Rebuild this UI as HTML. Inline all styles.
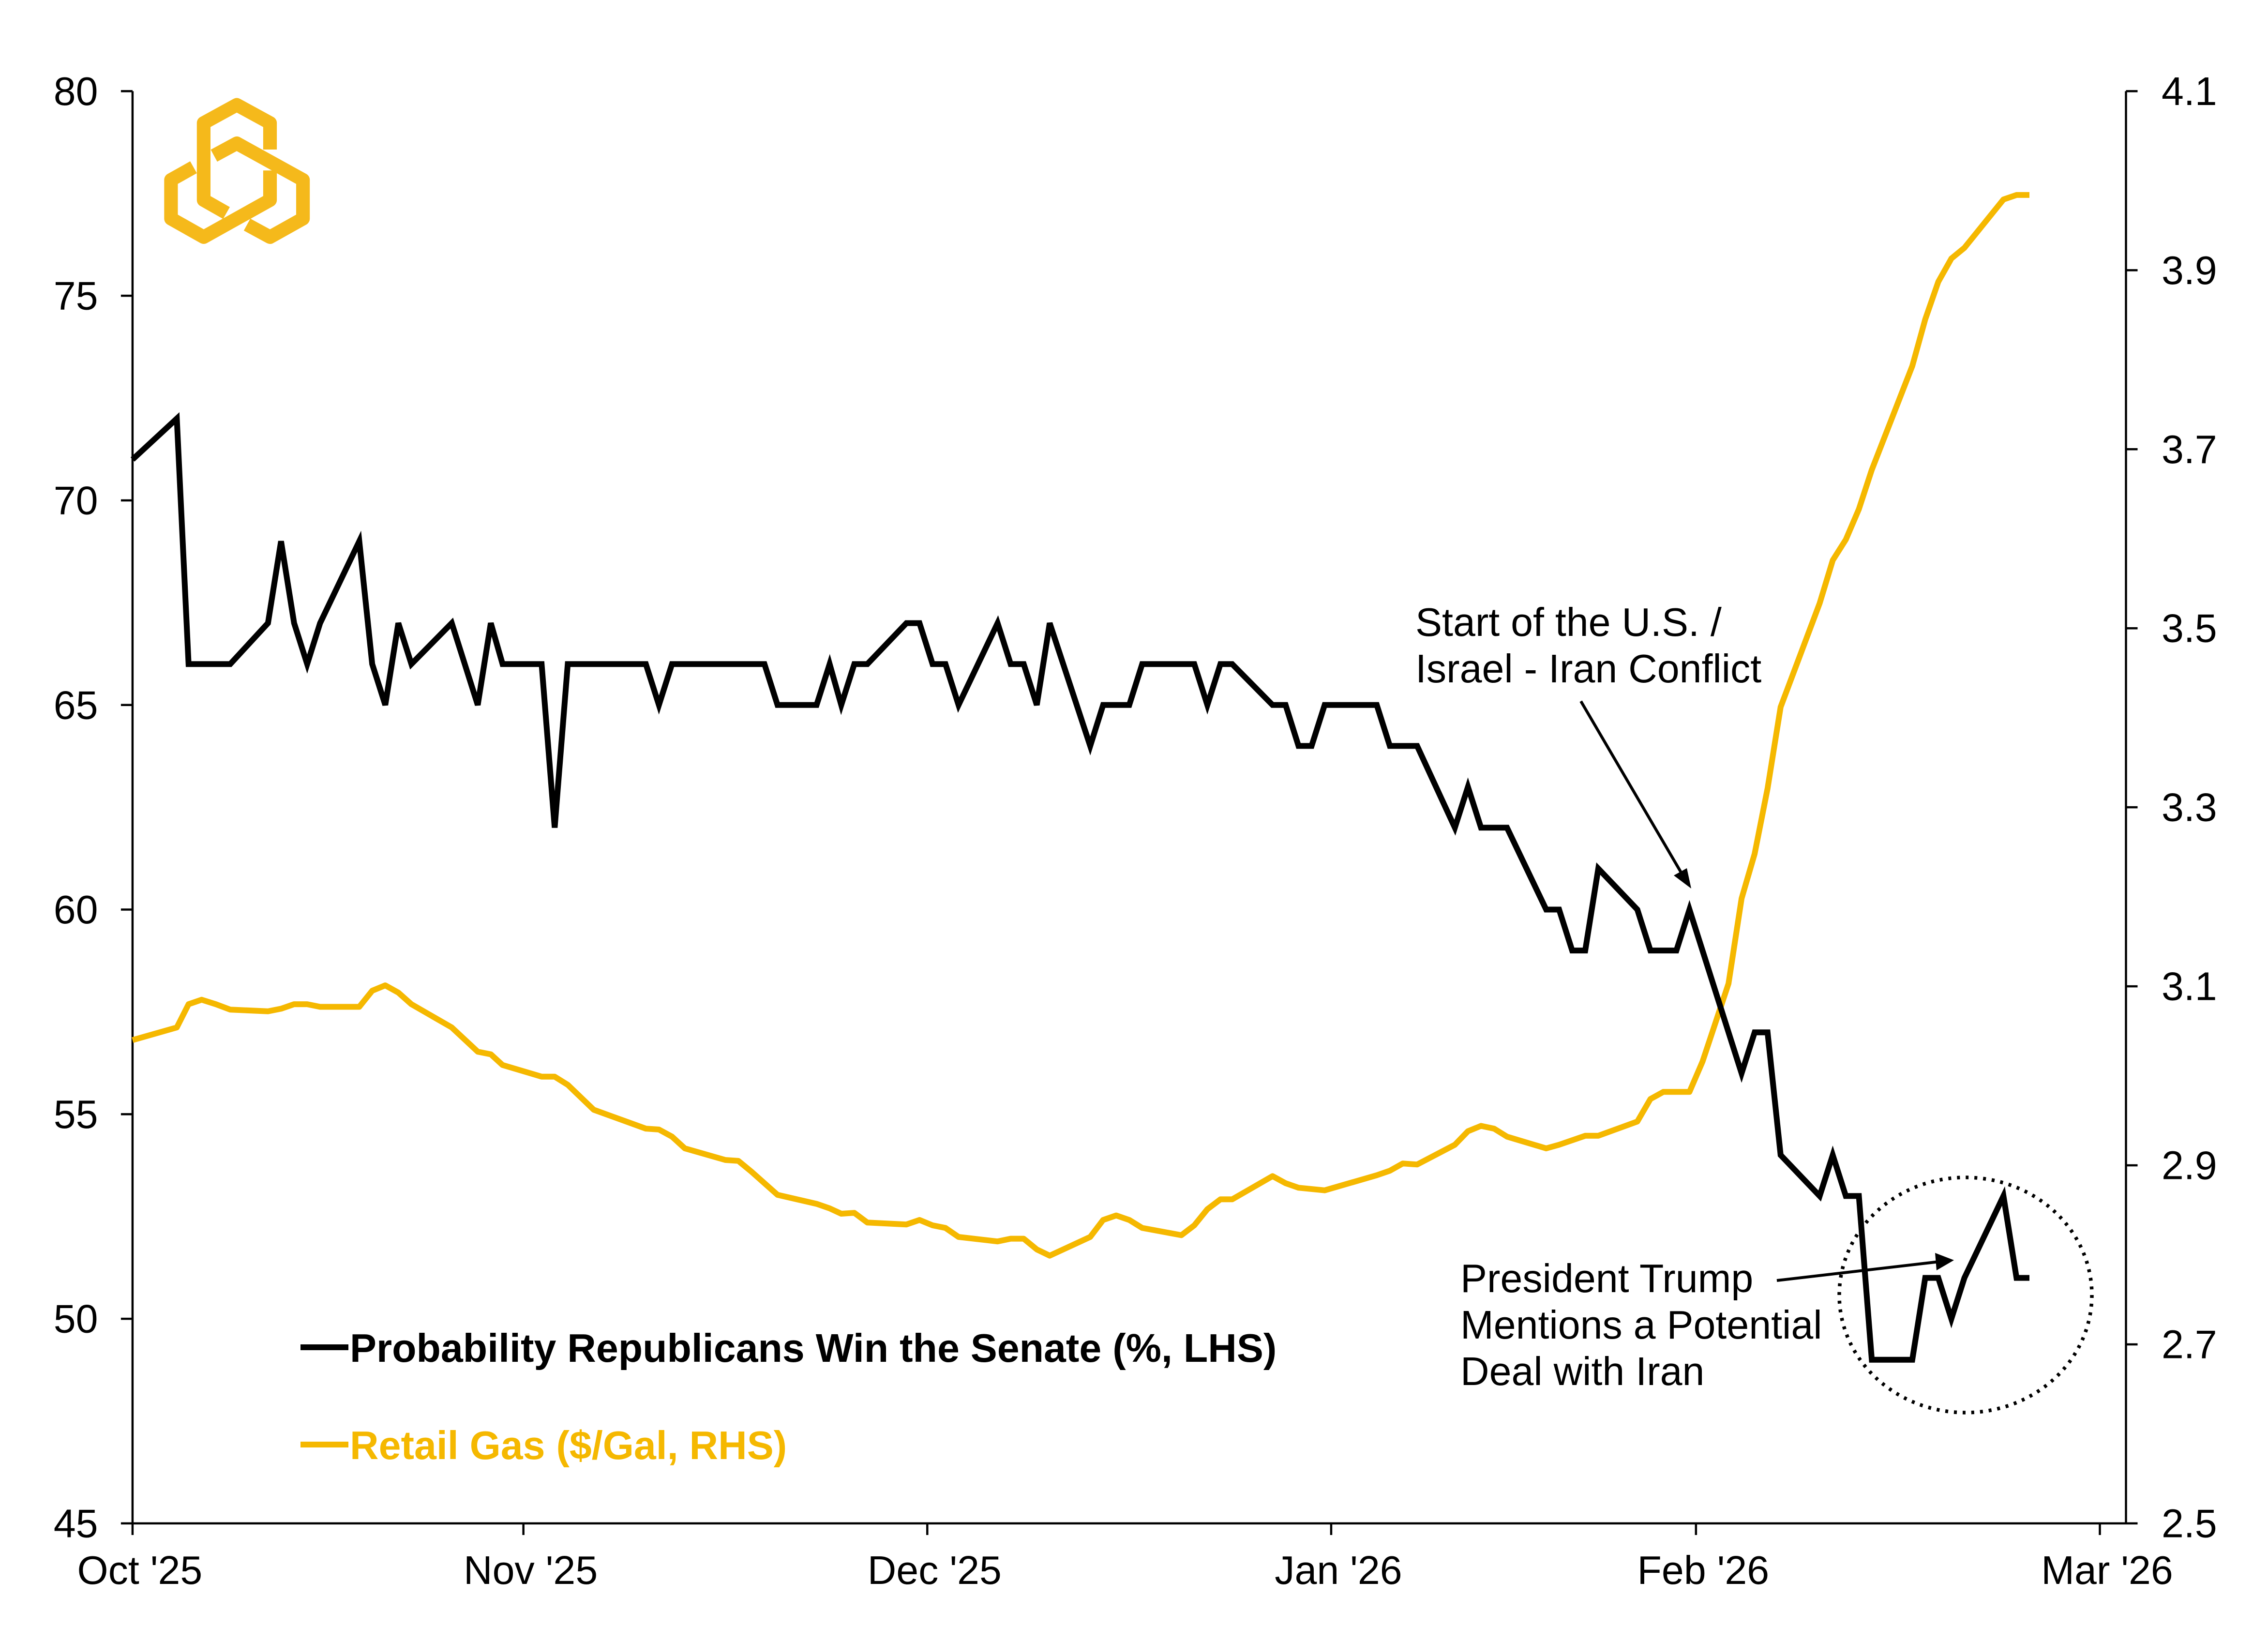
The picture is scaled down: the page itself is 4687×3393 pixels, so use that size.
<!DOCTYPE html>
<html>
<head>
<meta charset="utf-8">
<style>
html,body{margin:0;padding:0;background:#fff;}
svg{display:block;}
text{font-family:"Liberation Sans",Arial,sans-serif;}
</style>
</head>
<body>
<svg id="chart" width="4687" height="3393" viewBox="0 0 1562.33 1131" xmlns="http://www.w3.org/2000/svg">
  <rect width="1563" height="1131" fill="#fff"/>
  <g id="logo" fill="none" stroke="#F5B91B" stroke-width="9.4" stroke-linejoin="round">
    <polyline points="186,103 186,84.7 163.1,72.2 140.3,84.7 140.3,137.8 156,146.7"/>
    <polyline points="147.4,107.2 163.1,98.7 208.7,123.9 208.7,150.6 186,163.3 170.2,154.7"/>
    <polyline points="133.3,115.2 117.8,123.9 117.8,150.6 140.3,163.3 186,137.8 186,117.4"/>
  </g>
  <g id="axes"></g>
  <g id="series"></g>
  <g id="annotations">
    <text x="975" y="438" font-size="27.5" fill="#000">Start of the U.S. /</text>
    <text x="975" y="470" font-size="27.5" fill="#000">Israel - Iran Conflict</text>
    <line x1="1089" y1="483" x2="1161" y2="606" stroke="#000" stroke-width="2"/>
    <polygon points="1165,612 1153,603 1162,598" fill="#000"/>
    <text x="1006" y="890" font-size="27.5" fill="#000">President Trump</text>
    <text x="1006" y="922" font-size="27.5" fill="#000">Mentions a Potential</text>
    <text x="1006" y="954" font-size="27.5" fill="#000">Deal with Iran</text>
    <line x1="1224" y1="882" x2="1336" y2="869" stroke="#000" stroke-width="2"/>
    <polygon points="1346,868 1333,863 1334,875" fill="#000"/>
    <ellipse cx="1354" cy="892" rx="87" ry="81" fill="none" stroke="#000" stroke-width="2.5" stroke-dasharray="2,4"/>
  </g>
  <g id="legend">
    <line x1="207" y1="928" x2="240" y2="928" stroke="#000" stroke-width="4"/>
    <text x="241" y="938" font-size="27.5" font-weight="bold" fill="#000">Probability Republicans Win the Senate (%, LHS)</text>
    <line x1="207" y1="995" x2="240" y2="995" stroke="#F5B800" stroke-width="4"/>
    <text x="241" y="1005" font-size="27.5" font-weight="bold" fill="#F5B800">Retail Gas ($/Gal, RHS)</text>
  </g>
</svg>
<script>
const monthTickDays = [0, 30, 61, 92, 120, 151];
const monthTickLabels = ["Oct '25", "Nov '25", "Dec '25", "Jan '26", "Feb '26", "Mar '26"];
const leftTicks = [45, 50, 55, 60, 65, 70, 75, 80];
const rightTicks = [2.5, 2.7, 2.9, 3.1, 3.3, 3.5, 3.7, 3.9, 4.1];
const senateDays = [0,3.4,4.3,7.5,10.4,11.4,12.4,13.4,14.4,17.4,18.4,19.4,20.4,21.4,24.5,26.5,27.5,28.4,31.4,32.4,33.4,39.4,40.4,41.4,48.5,49.5,52.5,53.5,54.4,55.4,56.4,59.4,60.4,61.4,62.4,63.4,66.4,67.4,68.4,69.4,70.4,73.5,74.5,76.5,77.5,81.5,82.5,83.5,84.4,87.5,88.5,89.5,90.5,91.5,95.5,96.5,98.6,101.5,102.5,103.5,105.5,108.5,109.5,110.5,111.5,112.5,115.5,116.5,118.5,119.5,123.5,124.5,125.5,126.5,129.5,130.5,131.5,132.5,133.5,136.6,137.6,138.6,139.6,140.6,143.6,144.6,145.6];
const senateValues = [71,72,66,66,67,69,67,66,67,69,66,65,67,66,67,65,67,66,66,62,66,66,65,66,66,65,65,66,65,66,66,67,67,66,66,65,67,66,66,65,67,64,65,65,66,66,65,66,66,65,65,64,64,65,65,64,64,62,63,62,62,60,60,59,59,61,60,59,59,60,56,57,57,54,53,54,53,53,49,49,51,51,50,51,53,51,51];
const gasDays = [0,3.4,4.3,5.3,6.4,7.5,10.4,11.4,12.4,13.4,14.4,17.4,18.4,19.4,20.4,21.4,24.5,26.5,27.5,28.4,31.4,32.4,33.4,35.4,39.4,40.4,41.4,42.4,45.5,46.5,47.5,49.5,52.5,53.5,54.4,55.4,56.4,59.4,60.4,61.4,62.4,63.4,66.4,67.4,68.4,69.4,70.4,73.5,74.5,75.5,76.5,77.5,80.5,81.5,82.5,83.5,84.4,87.5,88.5,89.5,91.5,95.5,96.5,97.5,98.6,101.5,102.5,103.5,104.5,105.5,108.5,109.5,111.5,112.5,115.5,116.5,117.5,119.5,120.5,122.5,123.5,124.5,125.5,126.5,129.5,130.5,131.5,132.5,133.5,136.6,137.6,138.6,139.6,140.6,143.6,144.6,145.6];
const gasValues = [3.040,3.054,3.080,3.085,3.080,3.074,3.072,3.075,3.080,3.080,3.077,3.077,3.095,3.101,3.093,3.080,3.054,3.027,3.024,3.012,2.999,2.999,2.990,2.962,2.941,2.940,2.932,2.919,2.906,2.905,2.893,2.867,2.857,2.852,2.846,2.847,2.836,2.834,2.839,2.833,2.830,2.820,2.815,2.818,2.818,2.806,2.799,2.820,2.839,2.844,2.839,2.830,2.822,2.833,2.851,2.862,2.862,2.888,2.880,2.875,2.872,2.889,2.894,2.902,2.901,2.923,2.938,2.944,2.941,2.932,2.919,2.923,2.933,2.933,2.949,2.974,2.982,2.982,3.016,3.103,3.198,3.248,3.321,3.412,3.528,3.576,3.599,3.633,3.677,3.793,3.845,3.887,3.913,3.925,3.979,3.984,3.984];

const NS = "http://www.w3.org/2000/svg";
const PL = 91.3, PR = 1464.5, PT = 62.8, PB = 1049.3;
const XEND = 1446.5;
const dayMin = 0, dayMax = 151;
function xScale(d){ return PL + (d - dayMin) / (dayMax - dayMin) * (XEND - PL); }
function yLeft(v){ return PB - (v - 45) / (80 - 45) * (PB - PT); }
function yRight(v){ return PB - (v - 2.5) / (4.1 - 2.5) * (PB - PT); }
function mk(tag, attrs, parent){
  const el = document.createElementNS(NS, tag);
  for (const k in attrs) el.setAttribute(k, attrs[k]);
  parent.appendChild(el);
  return el;
}
const axes = document.getElementById('axes');
let el;
el = mk('line', {x1:PL, y1:PT, x2:PL, y2:PB, stroke:'#000', 'stroke-width':1.5}, axes);


el = mk('line', {x1:PR, y1:PT, x2:PR, y2:PB, stroke:'#000', 'stroke-width':1.5}, axes);


el = mk('line', {x1:PL, y1:PB, x2:PR, y2:PB, stroke:'#000', 'stroke-width':1.5}, axes);


leftTicks.forEach(v => {
  const y = yLeft(v);
  const t = mk('line', {x1:PL-8, y1:y, x2:PL, y2:y, stroke:'#000', 'stroke-width':1.5}, axes);
  
  
  const l = mk('text', {x:67.5, y:y+9.5, 'font-size':27.5, 'text-anchor':'end', fill:'#000'}, axes);
  l.textContent = v;
  
  
});
rightTicks.forEach(v => {
  const y = yRight(v);
  const t = mk('line', {x1:PR, y1:y, x2:PR+8, y2:y, stroke:'#000', 'stroke-width':1.5}, axes);
  
  
  const l = mk('text', {x:1489, y:y+9.5, 'font-size':27.5, fill:'#000'}, axes);
  l.textContent = v.toFixed(1);
  
  
});
monthTickDays.forEach((d, i) => {
  const x = xScale(d);
  const t = mk('line', {x1:x, y1:PB, x2:x, y2:PB+8, stroke:'#000', 'stroke-width':1.5}, axes);
  
  
  const l = mk('text', {x:x+5, y:1091, 'font-size':27.5, 'text-anchor':'middle', fill:'#000'}, axes);
  l.textContent = monthTickLabels[i];
  
  
});
const series = document.getElementById('series');
const gasPts = gasDays.map((d, i) => xScale(d).toFixed(1) + ',' + yRight(gasValues[i]).toFixed(1)).join(' ');
const gasLine = mk('polyline', {points:gasPts, fill:'none', stroke:'#F5B800', 'stroke-width':4, 'stroke-linejoin':'round'}, series);


const senPts = senateDays.map((d, i) => xScale(d).toFixed(1) + ',' + yLeft(senateValues[i]).toFixed(1)).join(' ');
const senLine = mk('polyline', {points:senPts, fill:'none', stroke:'#000', 'stroke-width':4, 'stroke-linejoin':'miter'}, series);


</script>
</body>
</html>
